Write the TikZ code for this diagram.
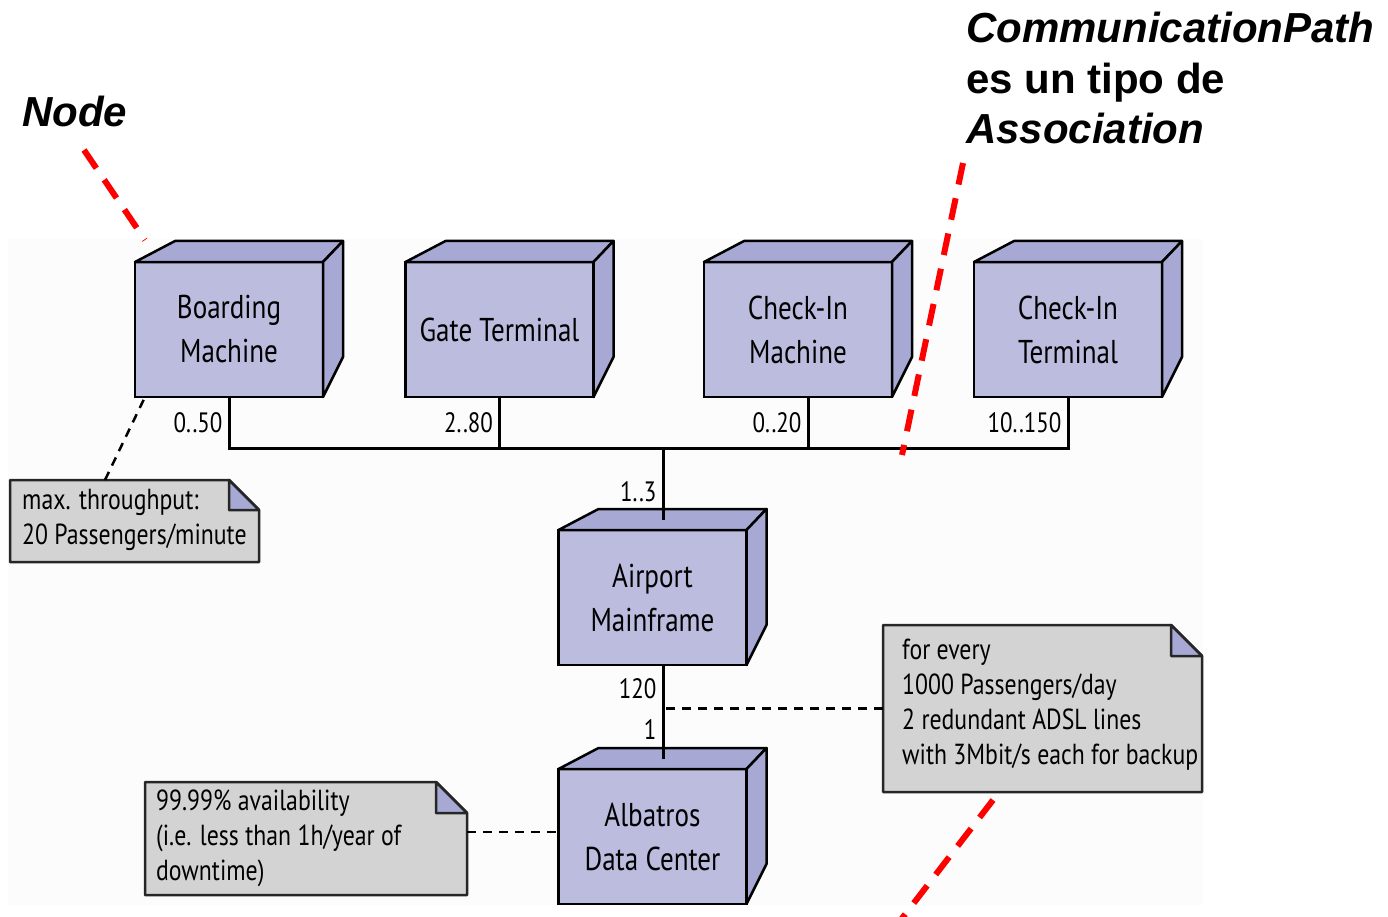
\documentclass[tikz,border=0pt]{standalone}
\usepackage{fontspec}
\setmainfont{Liberation Sans}
\newfontfamily\umlfont[FakeStretch=0.82]{PT Sans}
\usetikzlibrary{calc}
\usetikzlibrary{backgrounds}

\definecolor{nodefront}{RGB}{187,188,222}
\definecolor{nodeback}{RGB}{167,169,212}
\definecolor{notegray}{RGB}{211,211,211}

\tikzset{
  umlnode/.style={draw, line width=2.5pt, fill=nodefront, outer sep=0pt,
    minimum width=188pt, minimum height=135pt, align=center,
    font=\umlfont\fontsize{33}{44}\selectfont},
  nodeside/.style={draw, line width=2.5pt, fill=nodeback, line join=round},
  link/.style={line width=3pt},
  mult/.style={font=\umlfont\fontsize{28}{30}\selectfont, inner sep=5pt},
  notebox/.style={outer sep=0pt, inner sep=0pt},
  notetext/.style={anchor=west, inner sep=0pt, align=left,
    font=\umlfont\fontsize{29}{35}\selectfont},
  noteline/.style={draw=black!85, line width=2.5pt, line join=round},
  notelink/.style={line width=2.5pt, dash pattern=on 9pt off 7pt},
  annot/.style={align=left, inner sep=0pt, font=\bfseries\fontsize{42}{50.5}\selectfont},
  pointer/.style={red, line width=6pt, dash pattern=on 22pt off 14pt}
}

% top and right face of a node box
\newcommand{\boxsides}[1]{%
  \filldraw[nodeside] (#1.north west) -- ++(40,-21) -- ($(#1.north east)+(20,-21)$)
    -- (#1.north east) -- cycle;
  \filldraw[nodeside] (#1.north east) -- ++(20,-21) -- ($(#1.south east)+(20,-40)$)
    -- (#1.south east) -- cycle;}

% note sheet with dog-ear
\newcommand{\notefold}[2]{%
  \begin{scope}[on background layer]
    \filldraw[noteline, fill=notegray] (#1.south west) -- (#1.north west)
      -- ($(#1.north east)+(-#2,0)$) -- ($(#1.north east)+(0,#2)$)
      -- (#1.south east) -- cycle;
  \end{scope}
  \filldraw[noteline, fill=nodeback] ($(#1.north east)+(-#2,0)$) -- ($(#1.north east)+(-#2,#2)$)
    -- ($(#1.north east)+(0,#2)$) -- cycle;}

\begin{document}
\begin{tikzpicture}[x=1pt,y=-1pt]
\useasboundingbox (0,0) rectangle (1388,917);

\begin{scope}[on background layer]
\fill[black!1] (8,239) rectangle (1203,905);
\end{scope}

\node[umlnode] (bm) at (229,329.5) {Boarding\\Machine};
\node[umlnode] (gt) at (499.5,329.5) {Gate Terminal};
\node[umlnode] (cim) at (798,329.5) {Check-In\\Machine};
\node[umlnode] (cit) at (1068,329.5) {Check-In\\Terminal};
\node[umlnode] (am) at (652.5,597.5) {Airport\\Mainframe};
\node[umlnode] (adc) at (652.5,836.5) {Albatros\\Data Center};
\foreach \n in {bm,gt,cim,cit,am,adc} {\boxsides{\n}}

% communication paths
\coordinate (bus) at (0,448);
\coordinate (cimfoot) at ($(cim.south)+(10,0)$);
\coordinate (amtop) at ($(am.north)+(10.5,-10)$);
\coordinate (ambot) at ($(am.south)+(10.5,0)$);
\coordinate (adctop) at ($(adc.north)+(10.5,-10)$);

\draw[link] (bm.south) -- node[mult,left] {0..50} (bm.south |- bus)
  -- (cit.south |- bus) -- node[mult,left] {10..150} (cit.south);
\draw[link] (gt.south) -- node[mult,left] {2..80} (gt.south |- bus);
\draw[link] (cimfoot) -- node[mult,left] {0..20} (cimfoot |- bus);
\draw[link] (amtop |- bus) -- node[mult,left,pos=0.61] {1..3} (amtop);
\draw[link] (ambot) -- node[mult,left,pos=0.25] {120}
  node[mult,left,pos=0.69] {1} (adctop);

% notes
\node[notebox, minimum width=249pt, minimum height=82pt] (n1) at (134.5,521) {};
\notefold{n1}{30}
\node[notetext] (n1txt) at ($(n1.west)+(12,-1.5)$) {max. throughput:\\20 Passengers/minute};

\node[notebox, minimum width=319pt, minimum height=167pt] (n2) at (1042.5,708.5) {};
\notefold{n2}{31}
\node[notetext] (n2txt) at ($(n2.west)+(19,-3.5)$) {for every\\1000 Passengers/day\\2 redundant ADSL lines\\with 3Mbit/s each for backup};

\node[notebox, minimum width=322pt, minimum height=113pt] (n3) at (306,838.5) {};
\notefold{n3}{31}
\node[notetext] (n3txt) at ($(n3.west)+(11,0)$) {99.99\% availability\\(i.e. less than 1h/year of\\downtime)};

\coordinate (n1link) at ($(n1.north west)+(95,0)$);
\coordinate (bmlink) at ($(bm.south west)+(10,0)$);
\coordinate (n3link) at ($(n3.east)+(0,-6.5)$);
\draw[notelink] (n1link) -- (bmlink);
\draw[notelink] (n2.west) -- (n2.west -| ambot);
\draw[notelink] (n3link) -- (n3link -| adc.west);

% remarks
\node[annot, anchor=base west] (nodelbl) at (22,127) {\textit{Node}};
\node[annot, anchor=base west] (cplbl) at (966,144)
  {\textit{CommunicationPath}\\es un tipo de\\\textit{Association}};

\coordinate (nodefrom) at (84,150);
\coordinate (nodetip) at (145,240);
\coordinate (cpfrom) at (963,163);
\coordinate (cptip) at (902,455);
\coordinate (cpfrom2) at (993,800);
\coordinate (cptip2) at (900,921);
\draw[pointer] (nodefrom) -- (nodetip);
\draw[pointer] (cpfrom) -- (cptip);
\draw[pointer] (cpfrom2) -- (cptip2);
\end{tikzpicture}
\end{document}
